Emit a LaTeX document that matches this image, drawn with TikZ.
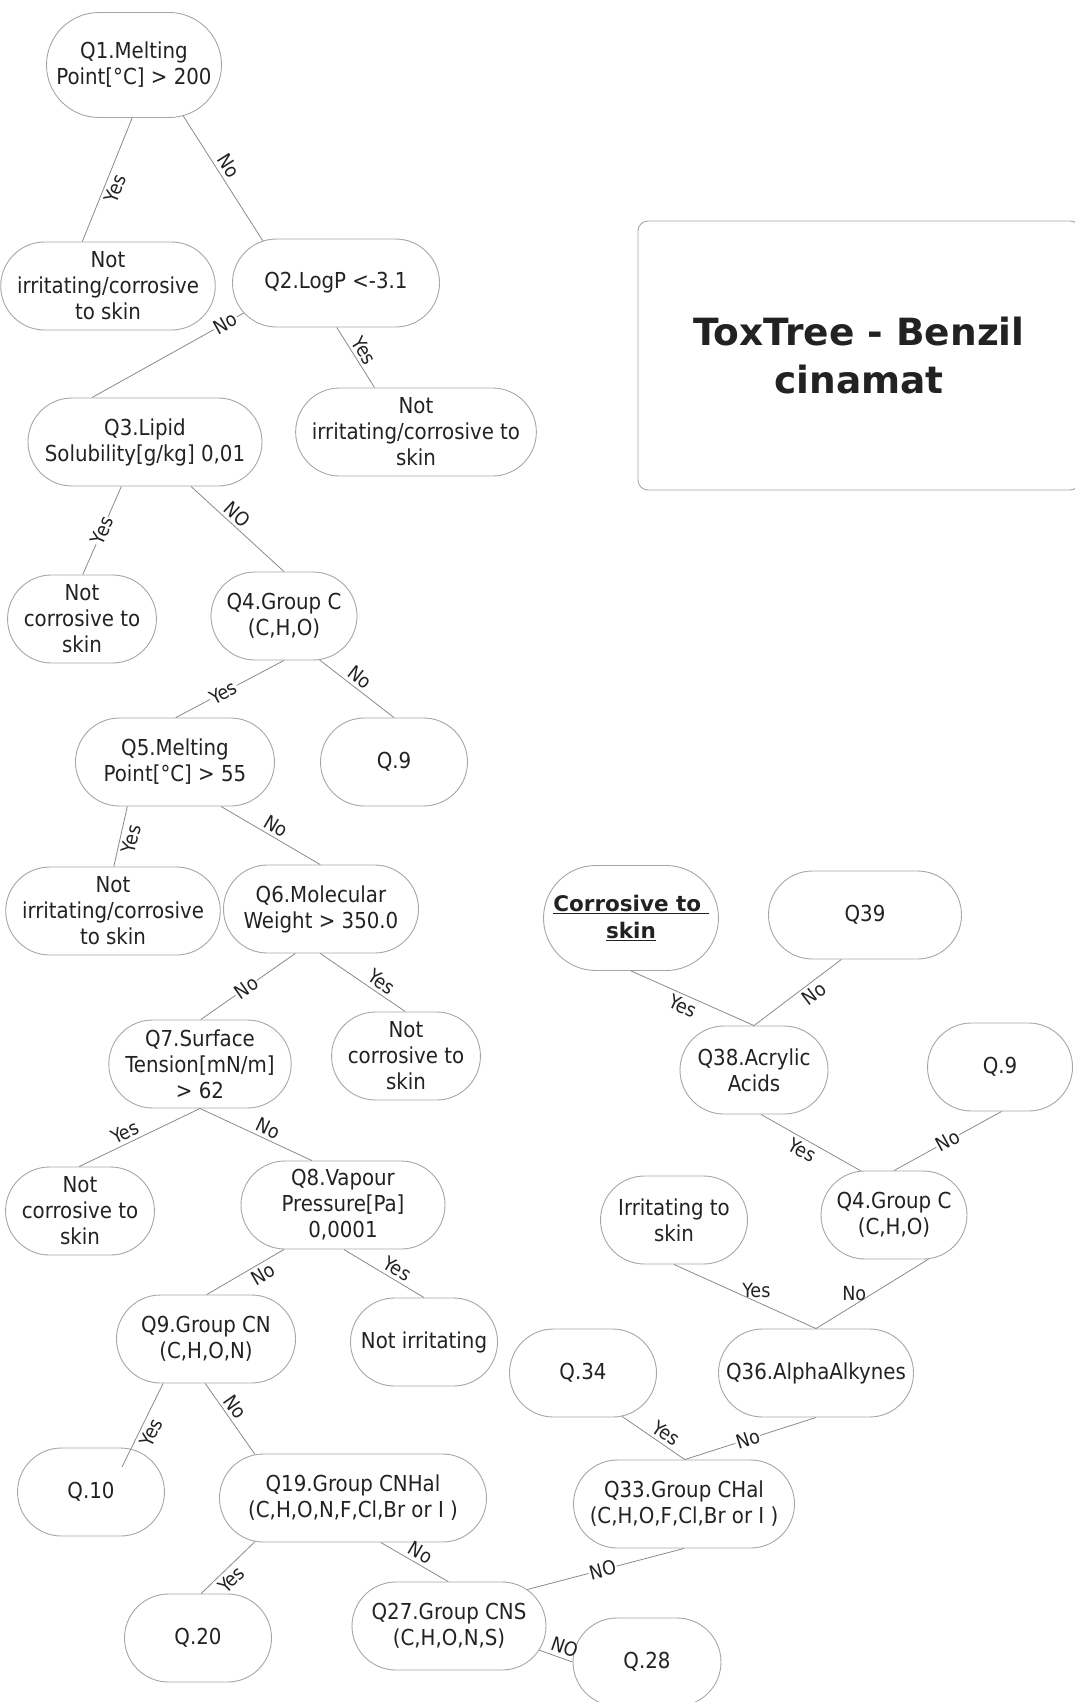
\documentclass[tikz,border=0pt]{standalone}
\usepackage{fontspec}
\setmainfont{DejaVu Sans Condensed}
\newfontfamily\headfont{DejaVu Sans}
\usetikzlibrary{shapes.misc}
\definecolor{ink}{HTML}{222222}
\definecolor{rim}{HTML}{A6A6A6}
\definecolor{wiregray}{HTML}{8A8A8A}
\begin{document}
\begin{tikzpicture}[x=1pt,y=-1pt,
  box/.style={draw=rim,line width=0.9pt,rounded rectangle,align=center,inner sep=0pt,
    text=ink,font=\fontsize{22}{26}\selectfont},
  link/.style={draw=wiregray,line width=0.8pt},
  lab/.style={text=ink,font=\fontsize{19.5}{22}\selectfont},
  onln/.style={fill=white,inner sep=1pt}]
\useasboundingbox (0,0) rectangle (1074,1702);

% title box, cut by the right edge
\node[draw=rim,line width=0.9pt,rounded corners=10pt,minimum width=442pt,minimum height=269pt,
  text=ink,align=center,font=\headfont\bfseries\fontsize{37.5}{48}\selectfont]
  (title) at (859,355.5) {ToxTree - Benzil\\cinamat};

% decision nodes
\node[box,minimum width=175,minimum height=105] (q1) at (134,65) {Q1.Melting\\Point[°C] > 200};
\node[box,minimum width=175,minimum height=105,font=\headfont\bfseries\fontsize{21.5}{27}\selectfont]
  (corr) at (631,918) {\underline{Corrosive to\ }\\\underline{skin}};
\foreach \n/\x/\y/\w/\t in {
  nic1/108/286/198/{Not\\irritating/corrosive\\to skin},
  q2/336/283/207/{Q2.LogP <-3.1},
  q3/145/442/234/{Q3.Lipid\\Solubility[g/kg] 0,01},
  nic2/416/432/228/{Not\\irritating/corrosive to\\skin},
  nc1/82/619/147/{Not\\corrosive to\\skin},
  q4/284/616/146/{Q4.Group C\\(C,H,O)},
  q5/175/762/199/{Q5.Melting\\Point[°C] > 55},
  q9a/394/762/147/{Q.9},
  nic3/113/911/207/{Not\\irritating/corrosive\\to skin},
  q6/321/909/195/{Q6.Molecular\\Weight > 350.0},
  q7/200/1064/179/{Q7.Surface\\Tension[mN/m]\\> 62},
  nc2/406/1056/147/{Not\\corrosive to\\skin},
  nc3/80/1211/144/{Not\\corrosive to\\skin},
  q8/343/1205/204/{Q8.Vapour\\Pressure[Pa]\\0,0001},
  q9/206/1339/179/{Q9.Group CN\\(C,H,O,N)},
  ni/424/1342/147/{Not irritating},
  q10/91/1492/147/{Q.10},
  q19/353/1498/267/{Q19.Group CNHal\\(C,H,O,N,F,Cl,Br or I )},
  q20/198/1638/147/{Q.20},
  q27/449/1626/194/{Q27.Group CNS\\(C,H,O,N,S)},
  q28/647/1662/148/{Q.28},
  q33/684/1504/221/{Q33.Group CHal\\(C,H,O,F,Cl,Br or I )},
  q34/583/1373/147/{Q.34},
  q36/816/1373/195/{Q36.AlphaAlkynes},
  irr/674/1220/147/{Irritating to\\skin},
  q4b/894/1215/146/{Q4.Group C\\(C,H,O)},
  q9b/1000/1067/145/{Q.9},
  q38/754/1070/148/{Q38.Acrylic\\Acids},
  q39/865/915/193/{Q39}}
  \node[box,minimum width=\w,minimum height=88] (\n) at (\x,\y) {\t};

% branches
\foreach \a/\b/\t/\p/\s in {
  q1.-92/nic1.120/Yes/.54/below, q1.-46/q2.150/No/.45/above,
  q2.198/q3.140/No/.12/onln, q2.-89/nic2.133/Yes/.48/above,
  q3.-118/nc1.89/Yes/.5/onln, q3.-44/q4.90/NO/.42/above,
  q4.-90/q5.89/Yes/.56/onln, q4.-51/q9a.90/No/.45/above,
  q5.-137/nic3.89/Yes/.5/below, q5.-44/q6.91/No/.5/above,
  q6.-120/q7.89/No/.52/onln, q6.-91/nc2.91/Yes/.65/above,
  q7.-90/nc3.91/Yes/.58/above, q7.-90/q8.125/No/.57/above,
  q8.-143/q9.89/No/.34/below, q8.-89/ni.90/Yes/.6/above,
  q9.-91/q19.156/No/.42/above, q19.-156/q20.86/Yes/.58/below,
  q19.-58/q27.91/No/.51/above, q27.25/q33.-90/NO/.48/onln,
  q27.-15/q28.180/NO/.65/above, q36.-90/q33.89/No/.52/onln,
  q34.-48/q33.89/Yes/.6/above, corr.-90/q38.90/Yes/.46/below,
  q39.-118/q38.90/No/.39/below, q38.-81/q4b.127/Yes/.47/below,
  q9b.-88/q4b.90/No/.5/onln}
  \draw[link] (\a) -- node[lab,sloped,pos=\p,\s] {\t} (\b);
\draw[link] (q9.-134) -- node[lab,sloped,pos=.53,below] {Yes} ([shift={(31,-25)}]q10.center);
\draw[link] (irr.-90) -- node[lab,pos=.58,above] {Yes} (q36.90);
\draw[link] (q4b.-52) -- node[lab,pos=.66,above] {No} (q36.90);

\end{tikzpicture}
\end{document}
